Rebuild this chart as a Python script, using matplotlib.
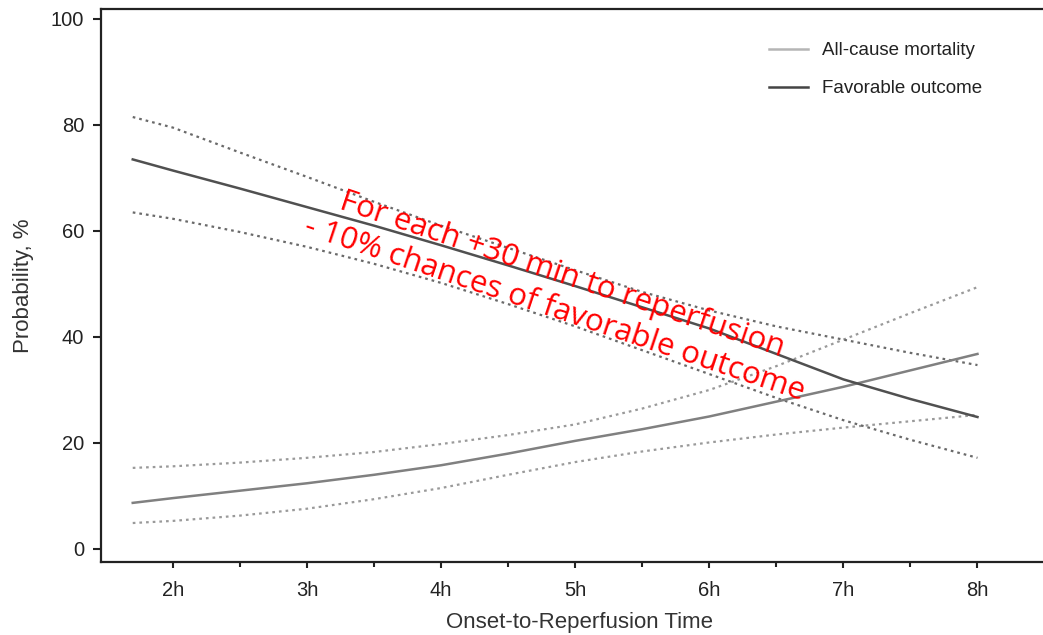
import numpy as np
import matplotlib
matplotlib.use("Agg")
import matplotlib.pyplot as plt
from matplotlib.ticker import FixedLocator

# hours from onset to reperfusion
hours = [1.7, 2, 2.5, 3, 3.5, 4, 4.5, 5, 5.5, 6, 6.5, 7, 7.5, 8]

# all-cause mortality (%), with 95% CI
mort = [8.7, 9.6, 11, 12.4, 14, 15.8, 18, 20.4, 22.6, 25, 27.8, 30.6, 33.7, 36.8]
mort_hi = [15.3, 15.6, 16.3, 17.2, 18.3, 19.8, 21.5, 23.5, 26.5, 30, 34.5, 39.5, 44.5, 49.4]
mort_lo = [4.9, 5.3, 6.3, 7.6, 9.4, 11.5, 14, 16.4, 18.4, 20.1, 21.6, 22.9, 24.1, 25.3]

# favorable outcome (%), with 95% CI
fav = [73.5, 71.4, 68, 64.5, 61, 57.3, 53.5, 49.6, 45.6, 41.6, 36.8, 32, 28.3, 24.9]
fav_hi = [81.5, 79.5, 74.8, 70.2, 65.5, 61, 56.8, 52.6, 48.5, 45, 42, 39.5, 37, 34.7]
fav_lo = [63.5, 62.3, 59.8, 57, 53.8, 50.2, 46.2, 42, 37.5, 33, 28.5, 24.3, 20.6, 17.2]

xticks = [2, 3, 4, 5, 6, 7, 8]
xlabels = ["2h", "3h", "4h", "5h", "6h", "7h", "8h"]
xminor = [2.5, 3.5, 4.5, 5.5, 6.5, 7.5, 8.5]

plt.rcParams['font.family'] = ['Liberation Sans', 'DejaVu Sans']

fig = plt.figure(figsize=(10.43, 6.35), dpi=100)
# axes run past the right edge of the figure, as in the original crop
ax = fig.add_axes([0.0968, 0.115, 0.9175, 0.871])

dot = (0, (1.2, 1.8))
ax.plot(hours, mort_hi, color="#9a9a9a", lw=1.6, ls=dot)
ax.plot(hours, mort_lo, color="#9a9a9a", lw=1.6, ls=dot)
ax.plot(hours, fav_hi, color="#6a6a6a", lw=1.6, ls=dot)
ax.plot(hours, fav_lo, color="#6a6a6a", lw=1.6, ls=dot)
ax.plot(hours, mort, color="#808080", lw=1.8, label="All-cause mortality")
ax.plot(hours, fav, color="#505050", lw=1.8, label="Favorable outcome")

ax.set_xlim(1.463, 8.6)
ax.set_ylim(-2.45, 101.9)
ax.set_xticks(xticks)
ax.set_xticklabels(xlabels)
ax.xaxis.set_minor_locator(FixedLocator(xminor))
ax.set_yticks([0, 20, 40, 60, 80, 100])

ax.tick_params(axis="both", which="major", direction="out", length=6, width=1.5,
               labelsize=14.5, colors="#222222", pad=6)
ax.tick_params(axis="x", which="minor", direction="out", length=3.5, width=1.5, color="#222222")
ax.tick_params(axis="x", which="major", length=4.5, pad=9)
for s in ax.spines.values():
    s.set_linewidth(1.6)
    s.set_color("#222222")

ax.set_xlabel("Onset-to-Reperfusion Time", fontsize=16, color="#333333", labelpad=9)
ax.set_ylabel("Probability, %", fontsize=16, color="#333333", labelpad=12)

leg = ax.legend(loc="upper left", bbox_to_anchor=(0.680, 0.970), frameon=False,
                fontsize=13.5, handlelength=2.1, handletextpad=0.75, labelspacing=1.1)
leg.get_lines()[0].set_color("#b5b5b5")
leg.get_lines()[1].set_color("#444444")
for t in leg.get_texts():
    t.set_color("#222222")

ax.text(0.476, 0.49, "For each +30 min to reperfusion\n - 10% chances of favorable outcome",
        transform=ax.transAxes, rotation=-18.5, rotation_mode="anchor",
        ha="center", va="center", color="red", fontsize=22.5, family=["Open Sans", "DejaVu Sans"],
        linespacing=1.2)

fig.savefig("out.png", dpi=100)
